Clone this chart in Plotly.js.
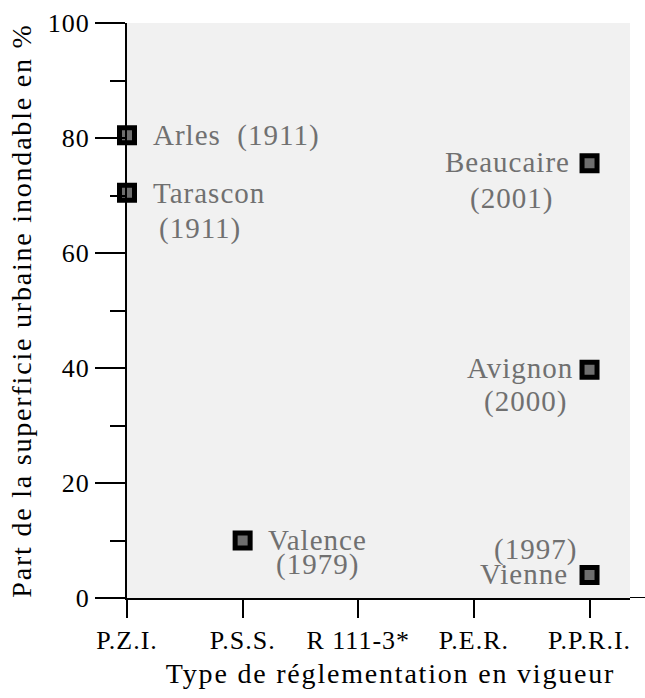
<!DOCTYPE html>
<html>
<head>
<meta charset="utf-8">
<script src="https://cdn.plot.ly/plotly-3.0.1.min.js"></script>
<style>
  html, body { margin: 0; padding: 0; background: #ffffff; }
  #chart { width: 645px; height: 698px; }
  svg text { letter-spacing: 1px; }
  .xtitle, .ytitle { letter-spacing: 1.8px !important; }
  .g-xtitle { transform: translateX(12px); }
</style>
</head>
<body>
<div id="chart"></div>
<script>
// ---- data ----
const categories = ['P.Z.I.', 'P.S.S.', 'R 111-3*', 'P.E.R.', 'P.P.R.I.'];
const towns      = ['Arles', 'Tarascon', 'Valence', 'Beaucaire', 'Avignon', 'Vienne'];
const townType   = ['P.Z.I.', 'P.Z.I.', 'P.S.S.', 'P.P.R.I.', 'P.P.R.I.', 'P.P.R.I.'];
const floodShare = [80.5, 70.5, 10, 75.6, 39.7, 4];
const years      = ['1911', '1911', '1979', '2001', '2000', '1997'];
const yTickVals  = [0, 20, 40, 60, 80, 100];

// ---- label placement (layout only) ----
const labelPlacement = [
  {i: 0, part: 'both', anchor: 'left',  dx: 25,    dy: 0},
  {i: 1, part: 'name', anchor: 'left',  dx: 25,    dy: 0},
  {i: 1, part: 'year', anchor: 'left',  dx: 31,    dy: -36},
  {i: 2, part: 'name', anchor: 'left',  dx: 24,    dy: 1},
  {i: 2, part: 'year', anchor: 'right', dx: 117,   dy: -24},
  {i: 3, part: 'name', anchor: 'right', dx: -19,   dy: 1},
  {i: 3, part: 'year', anchor: 'right', dx: -36,   dy: -35},
  {i: 4, part: 'name', anchor: 'right', dx: -16,   dy: 2},
  {i: 4, part: 'year', anchor: 'right', dx: -22,   dy: -32},
  {i: 5, part: 'year', anchor: 'right', dx: -12,   dy: 26},
  {i: 5, part: 'name', anchor: 'right', dx: -21,   dy: 1}
];

const serif = 'Liberation Serif, Times New Roman, serif';
const labelGray = '#707070';

const annotations = labelPlacement.map(p => {
  let txt;
  if (p.part === 'both') txt = towns[p.i] + '\u00a0 (' + years[p.i] + ')';
  else if (p.part === 'name') txt = towns[p.i];
  else txt = '(' + years[p.i] + ')';
  return {
    x: categories.indexOf(townType[p.i]),
    y: floodShare[p.i],
    xref: 'x', yref: 'y',
    text: txt,
    showarrow: false,
    xanchor: p.anchor,
    yanchor: 'middle',
    xshift: p.dx,
    yshift: p.dy,
    borderpad: 0,
    font: {family: serif, size: 29, color: labelGray}
  };
});

const trace = {
  type: 'scatter',
  mode: 'markers',
  x: townType,
  y: floodShare,
  text: towns,
  hoverinfo: 'text+y',
  marker: {
    symbol: 'square',
    size: 15,
    color: '#6e6e6e',
    line: {color: '#000000', width: 5}
  },
  cliponaxis: false,
  showlegend: false
};

const layout = {
  width: 645,
  height: 698,
  margin: {l: 127, r: 15, t: 23, b: 100, pad: 0},
  paper_bgcolor: '#ffffff',
  plot_bgcolor: '#f1f1f1',
  showlegend: false,
  font: {family: serif, color: '#000000', size: 26},
  xaxis: {
    type: 'category',
    categoryorder: 'array',
    categoryarray: categories,
    range: [0, 4.35],
    showgrid: false,
    zeroline: false,
    showline: true,
    linecolor: '#000000',
    linewidth: 2,
    ticks: 'outside',
    ticklen: 18,
    tickwidth: 2,
    tickcolor: '#000000',
    tickfont: {family: serif, size: 26, color: '#000000'},
    title: {text: 'Type de réglementation en vigueur', font: {family: serif, size: 28, color: '#000000'}, standoff: 9},
    automargin: false,
    fixedrange: true
  },
  yaxis: {
    range: [0, 100],
    tickvals: yTickVals,
    ticktext: yTickVals.map(String),
    showgrid: false,
    zeroline: false,
    showline: true,
    linecolor: '#000000',
    linewidth: 2,
    ticks: 'outside',
    ticklen: 30,
    tickwidth: 2,
    tickcolor: '#000000',
    minor: {dtick: 10, tick0: 0, ticks: 'outside', ticklen: 15, tickwidth: 2, tickcolor: '#000000', showgrid: false},
    tickfont: {family: serif, size: 26, color: '#000000'},
    title: {text: 'Part de la superficie urbaine inondable en %', font: {family: serif, size: 28, color: '#000000'}, standoff: 8},
    automargin: false,
    fixedrange: true
  },
  shapes: [
    {type: 'line', xref: 'paper', yref: 'y', x0: 1, x1: 1.035, y0: 0, y1: 0, line: {color: '#000000', width: 2}}
  ],
  annotations: annotations
};

Plotly.newPlot('chart', [trace], layout, {staticPlot: true, displayModeBar: false});
</script>
</body>
</html>
